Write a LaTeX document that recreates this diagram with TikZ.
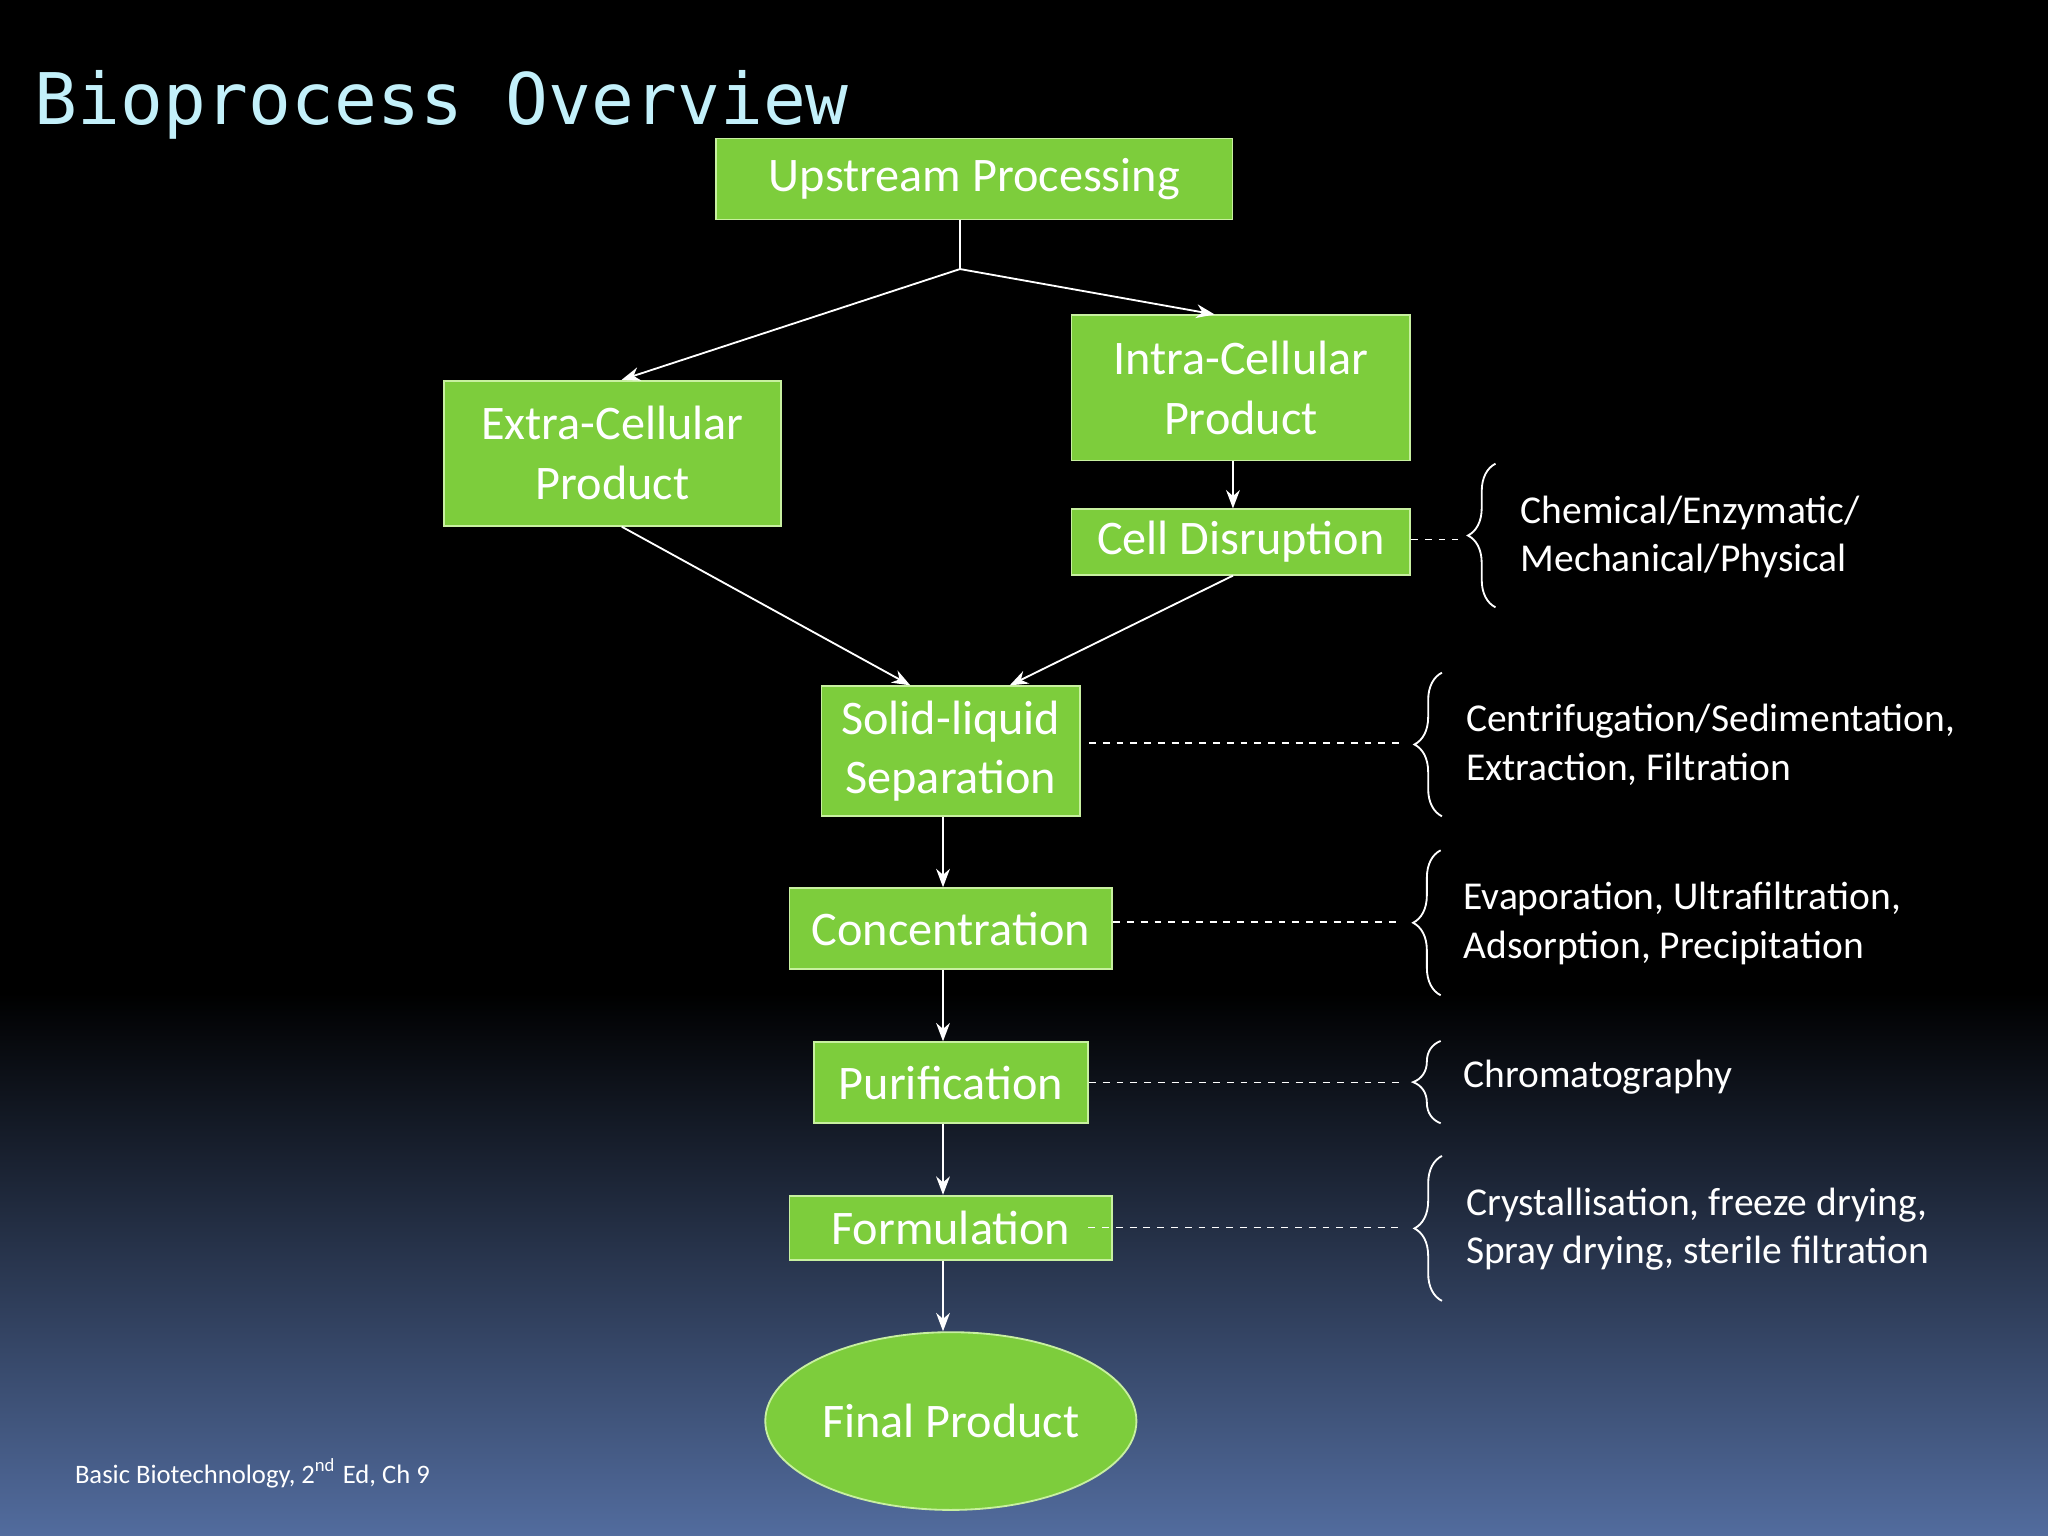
\documentclass[tikz,border=0pt]{standalone}
\usepackage{fontspec}
\setmainfont{Carlito}
\newfontfamily\monofont{DejaVu Sans Mono}
\usetikzlibrary{shapes.geometric,decorations.pathreplacing,arrows.meta}
\definecolor{boxgreen}{RGB}{125,205,60}
\definecolor{boxedge}{RGB}{200,240,160}
\definecolor{titlecyan}{RGB}{195,240,250}
\definecolor{bottomblue}{RGB}{82,108,158}

\tikzset{
  box/.style={draw=boxedge, fill=boxgreen, text=white, align=center, inner sep=0pt,
    font=\fontsize{10.5}{13}\selectfont},
  ell/.style={box, ellipse},
  arr/.style={draw=white, -{Stealth[length=4pt,width=3pt]}, line width=0.4pt},
  lin/.style={draw=white, line width=0.4pt},
  dsh/.style={draw=white, dashed, dash pattern=on 1.5pt off 1.5pt, line width=0.3pt},
  brc/.style={draw=white, line width=0.4pt, decorate, decoration={brace, mirror, amplitude=6pt}},
  note/.style={text=white, anchor=west, align=left, font=\fontsize{8.6}{10.6}\selectfont}
}

\begin{document}
\begin{tikzpicture}[x=0.01cm, y=-0.01cm]
\useasboundingbox (0,0) rectangle (1568,1176);
\fill[black] (0,0) rectangle (1568,1176);
\shade[top color=black, bottom color=bottomblue] (0,760) rectangle (1568,1176);

% title and source
\node[anchor=west, text=titlecyan, font=\monofont\fontsize{15.5}{18}\selectfont] (title) at (14,80) {Bioprocess Overview};
\node[anchor=west, text=white, font=\fontsize{5.8}{7}\selectfont] (src) at (45,1128) {Basic Biotechnology, 2\textsuperscript{nd} Ed, Ch 9};

% process boxes
\node[box, minimum width=3.95cm, minimum height=0.62cm] (up) at (746,137) {Upstream Processing};
\node[box, minimum width=2.59cm, minimum height=1.11cm] (intra) at (950,297) {Intra-Cellular\\Product};
\node[box, minimum width=2.58cm, minimum height=1.11cm] (extra) at (469,347) {Extra-Cellular\\Product};
\node[box, minimum width=2.59cm, minimum height=0.5cm] (cell) at (950,415) {Cell Disruption};
\node[box, minimum width=1.98cm, minimum height=0.99cm] (sep) at (728,575) {Solid-liquid\\Separation};
\node[box, minimum width=2.47cm, minimum height=0.62cm] (conc) at (728,711) {Concentration};
\node[box, minimum width=2.1cm, minimum height=0.62cm] (pur) at (728,829) {Purification};
\node[box, minimum width=2.47cm, minimum height=0.49cm] (form) at (728,940) {Formulation};
\node[ell, minimum width=2.84cm, minimum height=1.36cm] (final) at (728,1088) {Final Product};

% connectors
\coordinate (split) at (735,206);
\draw[lin] (up.south -| split) -- (split);
\draw[arr] (split) -- ([xshift=0.07cm]extra.north);
\draw[arr] (split) -- ([xshift=-0.2cm]intra.north);
\draw[arr] ([xshift=-0.06cm]intra.south) -- ([xshift=-0.06cm]cell.north);
\draw[arr] ([xshift=0.07cm]extra.south) -- ([xshift=-0.31cm]sep.north);
\draw[arr] ([xshift=-0.06cm]cell.south) -- ([xshift=0.45cm]sep.north);
\draw[arr] ([xshift=-0.06cm]sep.south) -- ([xshift=-0.06cm]conc.north);
\draw[arr] ([xshift=-0.06cm]conc.south) -- ([xshift=-0.06cm]pur.north);
\draw[arr] ([xshift=-0.06cm]pur.south) -- ([xshift=-0.06cm]form.north);
\draw[arr] ([xshift=-0.06cm]form.south) -- ([xshift=-0.06cm]final.north);

% methods
\coordinate (b1) at (1116,413);
\draw[dsh] (cell.east |- b1) -- (b1);
\draw[brc] (1145,355) -- (1145,465);
\node[note] (m1) at (1152,411) {Chemical/Enzymatic/\\Mechanical/Physical};

\coordinate (b2) at (1072,569);
\draw[dsh] ([xshift=0.06cm]sep.east |- b2) -- (b2);
\draw[brc] (1104,515) -- (1104,625);
\node[note] (m2) at (1110,570) {Centrifugation/Sedimentation,\\Extraction, Filtration};

\coordinate (b3) at (1072,706);
\draw[dsh] (conc.east |- b3) -- (b3);
\draw[brc] (1103,651) -- (1103,762);
\node[note] (m3) at (1108,707) {Evaporation, Ultrafiltration,\\Adsorption, Precipitation};

\coordinate (b4) at (1072,829);
\draw[dsh] (pur.east) -- (b4);
\draw[brc] (1103,797) -- (1103,860);
\node[note] (m4) at (1108,825) {Chromatography};

\coordinate (b5) at (1072,940);
\draw[dsh] ([xshift=-0.19cm]form.east) -- (b5);
\draw[brc] (1104,885) -- (1104,996);
\node[note] (m5) at (1110,941) {Crystallisation, freeze drying,\\Spray drying, sterile filtration};
\end{tikzpicture}
\end{document}
